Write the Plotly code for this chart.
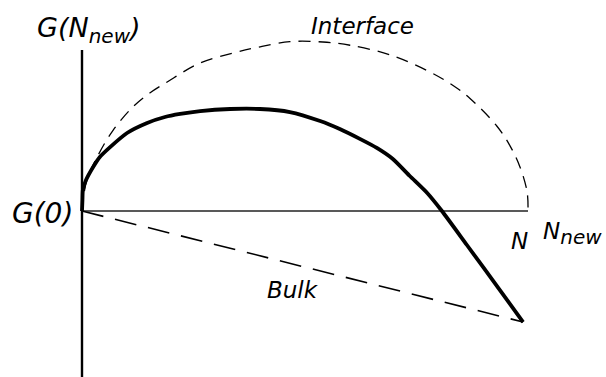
import plotly.graph_objects as go

# schematic data: N scaled so that N_new = 1, G scaled so interface peak = 1
curve_n = [0, 0.001, 0.002, 0.009, 0.025, 0.040, 0.063, 0.101, 0.146, 0.186, 0.220,
           0.265, 0.332, 0.399, 0.466, 0.534, 0.578, 0.623, 0.661, 0.697, 0.735,
           0.774, 0.807, 0.863, 0.937, 0.989]
curve_g = [0, 0.065, 0.124, 0.182, 0.259, 0.318, 0.376, 0.459, 0.518, 0.553, 0.571,
           0.588, 0.600, 0.600, 0.582, 0.529, 0.482, 0.424, 0.371, 0.306, 0.206,
           0.106, 0.0, -0.200, -0.465, -0.653]

iface_n = [0, 0.004, 0.011, 0.034, 0.070, 0.114, 0.152, 0.191, 0.265, 0.339, 0.392,
           0.466, 0.540, 0.601, 0.691, 0.780, 0.832, 0.870, 0.930, 0.960, 0.982,
           0.998, 1.0]
iface_g = [0, 0.094, 0.182, 0.318, 0.476, 0.612, 0.694, 0.759, 0.871, 0.929, 0.962,
           0.996, 0.994, 0.975, 0.918, 0.818, 0.738, 0.662, 0.5, 0.382, 0.259,
           0.112, 0.0]

bulk_n = [0, 0.989]
bulk_g = [0, -0.653]

axis_n = [0, 1.0]
axis_g = [0, 0]
vaxis_n = [0, 0]
vaxis_g = [0.947, -1.0]

fig = go.Figure()

fig.add_trace(go.Scatter(x=vaxis_n, y=vaxis_g, mode="lines",
                         line=dict(color="black", width=2.4)))
fig.add_trace(go.Scatter(x=axis_n, y=axis_g, mode="lines",
                         line=dict(color="#222", width=1.5)))
fig.add_trace(go.Scatter(x=iface_n, y=iface_g, mode="lines",
                         line=dict(shape="spline", smoothing=1.0, color="black",
                                   width=1.3, dash="12px,8px")))
fig.add_trace(go.Scatter(x=bulk_n, y=bulk_g, mode="lines",
                         line=dict(color="black", width=1.6, dash="22px,12px")))
fig.add_trace(go.Scatter(x=curve_n, y=curve_g, mode="lines",
                         line=dict(shape="spline", smoothing=0.6, color="black", width=3.8)))

sub = "<sub><span style='font-size:20px'>new</span></sub>"
labels = [
    ("<i>G(N" + sub + ")</i>", -0.105, 1.062, "left", 27),
    ("<i>Interface</i>", 0.630, 1.088, "center", 23),
    ("<i>G(0)</i>", -0.0157, -0.012, "right", 28),
    ("<i>N</i>", 0.980, -0.176, "center", 23),
    ("<i>N" + sub + "</i>", 1.170, -0.135, "right", 23),
    ("<i>Bulk</i>", 0.473, -0.465, "center", 23),
]
for txt, xx, yy, anchor, size in labels:
    fig.add_annotation(text=txt, x=xx, y=yy, showarrow=False,
                       font=dict(family="DejaVu Sans", size=size, color="black"),
                       xanchor=anchor, yanchor="middle")

fig.update_layout(
    width=606, height=377,
    margin=dict(l=0, r=0, t=0, b=0),
    plot_bgcolor="white", paper_bgcolor="white",
    showlegend=False,
    xaxis=dict(range=[-0.18386, 1.17489], visible=False),
    yaxis=dict(range=[-0.97647, 1.24118], visible=False),
)

fig.write_html("out.html", config={"displayModeBar": False},
               post_script="document.body.style.margin='0px';")
